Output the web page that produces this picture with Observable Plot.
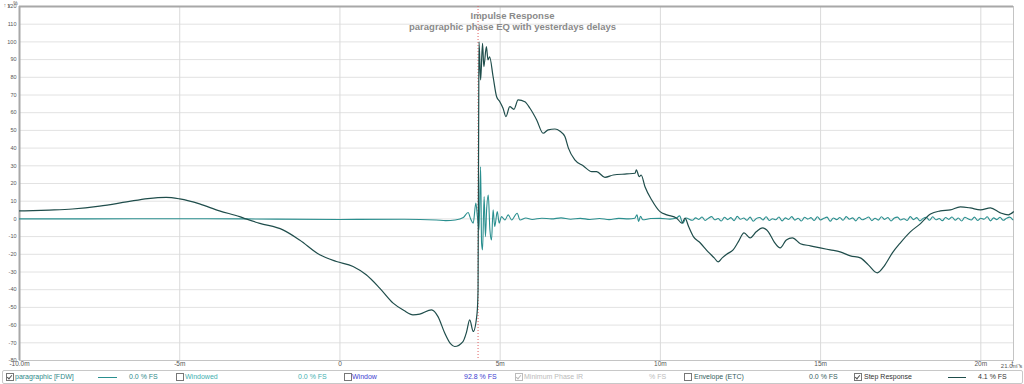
<!DOCTYPE html>
<html>
<head>
<meta charset="utf-8">
<script src="https://cdn.jsdelivr.net/npm/d3@7"></script>
<script src="https://cdn.jsdelivr.net/npm/@observablehq/plot@0.6"></script>
<style>
  body { margin: 0; background: #fff; font-family: "Liberation Sans", Arial, sans-serif; }
  #wrap { position: relative; width: 1024px; height: 384px; overflow: hidden; }
  #legend { position: absolute; left: 2px; top: 370px; width: 1019px; height: 12px; border: 1px solid #c8c8c8; border-radius: 2px; font-size: 7px; }
  #legend span { position: absolute; top: 2px; white-space: nowrap; }
  .cb { position: absolute; top: 2px; width: 6px; height: 6px; border: 1px solid #777; background: #fff; }
  .cb.on::after { content: ""; position: absolute; left: 1px; top: 0px; width: 2px; height: 4px; border: solid #555; border-width: 0 1px 1px 0; transform: rotate(40deg); }
  .cb.dis { border-color: #bbb; }
  .cb.dis::after { border-color: #bbb; }
  .ln { position: absolute; top: 6px; height: 1.3px; }
</style>
</head>
<body>
<div id="wrap">
  <div id="chart"></div>
  <div id="legend"></div>
</div>
<script>
// ---- data (time in ms, level in %) ----
const stepTime = [-10, -9.07, -8.35, -7.5, -6.66, -6.0, -5.42, -5.0, -4.38, -3.76, -3.13, -2.93, -2.5, -1.78, -1.26, -0.63, -0.11, 0.41, 0.82, 1.24, 1.66, 2.0, 2.28, 2.49, 2.86, 3.06, 3.27, 3.45, 3.58, 3.84, 3.95, 4.05, 4.16, 4.28, 4.31, 4.33, 4.34, 4.39, 4.45, 4.49, 4.57, 4.62, 4.67, 4.78, 4.89, 4.99, 5.09, 5.18, 5.3, 5.43, 5.56, 5.77, 5.93, 6.14, 6.34, 6.5, 6.71, 6.87, 7.02, 7.13, 7.33, 7.59, 7.86, 8.01, 8.27, 8.53, 8.95, 9.21, 9.25, 9.34, 9.4, 9.52, 9.73, 9.99, 10.2, 10.51, 10.67, 10.77, 10.88, 11.03, 11.24, 11.49, 11.68, 11.8, 11.93, 12.08, 12.27, 12.43, 12.61, 12.8, 12.99, 13.18, 13.37, 13.55, 13.74, 13.93, 14.12, 14.37, 14.68, 14.99, 15.3, 15.61, 15.93, 16.24, 16.49, 16.77, 16.99, 17.24, 17.49, 17.8, 18.11, 18.43, 18.74, 19.05, 19.36, 19.67, 19.99, 20.3, 20.61, 20.86, 21.02];
const stepValue = [4.5, 5.0, 5.6, 7.2, 9.6, 11.5, 12.2, 11.3, 8.5, 4.5, 1.3, 0, -2.5, -6.2, -11.9, -20.3, -24.1, -26.9, -31.6, -39.1, -47.6, -51.8, -54.2, -53.8, -51.4, -55.2, -64.5, -70.5, -72.1, -69.3, -64, -57, -63.6, -53.2, -40, 60, 100, 78.5, 99.2, 86, 97.3, 89.8, 91.6, 80.3, 69, 66.2, 62.5, 57.8, 63.4, 61.9, 67.2, 66.2, 62.5, 55.9, 48.4, 50.3, 50.8, 49.5, 46.5, 40, 33.3, 30, 26.7, 26.7, 23.5, 24.8, 25.4, 25.8, 27.7, 23.9, 24.8, 18.2, 10.7, 4.1, 2.3, 0.4, -2.4, 0.4, -4.3, -10, -13.5, -18.6, -22, -24.3, -22, -19.8, -17.5, -13, -7.9, -10.7, -7.3, -5.1, -7.3, -13, -16.4, -11.9, -10.7, -14, -15.2, -16.4, -17.5, -18.6, -20.9, -22, -26, -30.5, -26.5, -19.2, -13.5, -7.3, -2.8, 2.8, 4.5, 5.1, 6.8, 6.2, 5.1, 6.2, 3.4, 2.3, 4];

const impulseTime = [-10, -8, -5, -3, 0, 2, 3, 3.3, 3.6, 3.85, 4.0, 4.08, 4.16, 4.24, 4.29, 4.34, 4.39, 4.42, 4.45, 4.5, 4.54, 4.58, 4.63, 4.68, 4.73, 4.78, 4.83, 4.91, 4.97, 5.04, 5.15, 5.25, 5.36, 5.53, 5.62, 5.8, 6.0, 6.3, 6.6, 6.9, 7.2, 7.5, 7.8, 8.1, 8.4, 8.7, 9.0, 9.2, 9.27, 9.32, 9.38, 9.45, 9.7, 10.0, 10.3, 10.5, 10.6, 10.7, 10.8,
  11.0, 11.1, 11.2, 11.3, 11.4, 11.5, 11.6, 11.7, 11.8, 11.9, 12.0, 12.1, 12.2, 12.3, 12.4, 12.5, 12.6, 12.7, 12.8, 12.9, 13.0, 13.1, 13.2, 13.3, 13.4, 13.5, 13.6, 13.7, 13.8, 13.9, 14.0, 14.1, 14.2, 14.3, 14.4, 14.5, 14.6, 14.7, 14.8, 14.9, 15.0, 15.1, 15.2, 15.3, 15.4, 15.5, 15.6, 15.7, 15.8, 15.9, 16.0, 16.1, 16.2, 16.3, 16.4, 16.5, 16.6, 16.7, 16.8, 16.9, 17.0, 17.1, 17.2, 17.3, 17.4, 17.5, 17.6, 17.7, 17.8, 17.9, 18.0, 18.1, 18.2, 18.3, 18.4, 18.5, 18.6, 18.7, 18.8, 18.9, 19.0, 19.1, 19.2, 19.3, 19.4, 19.5, 19.6, 19.7, 19.8, 19.9, 20.0, 20.1, 20.2, 20.3, 20.4, 20.5, 20.6, 20.7, 20.8, 20.9, 21.0];
const impulseValue = [0, 0, 0.1, 0, -0.3, -0.2, -0.6, -1, -0.6, 0.8, 3.6, 0, -2.4, 8.9, 1.3, -6.2, 29.5, -13.7, -17.5, 12.6, -10, 6, 13.5, -6.2, -11.9, 5.1, -4.3, 4.1, -2.4, 1.3, -0.6, 2.3, -0.6, 3.2, -0.6, 0.5, -0.3, 0.4, 0, 0.6, -0.2, 0.3, -0.3, 0.2, -0.4, 0.3, 0, 0.4, 2.3, -1.5, 1.5, -0.5, 0.2, 0.3, -0.1, 0.5, 1.7, -2.5, 0.5,
  -0.8, 0.6, -0.3, 1.1, -0.9, 0.4, 1.3, -0.5, 0.2, -1.2,
  0.9, -0.4, 0.7, -1.0, 1.4, -0.2, 0.5, -0.8, 1.0, -1.3,
  0.3, 0.8, -0.6, 1.2, -0.9, 0.1, -0.5, 1.1, -1.1, 0.6,
  -0.3, 1.3, -0.7, 0.4, -1.2, 0.9, -0.1, 0.7, -0.9, 1.2,
  -0.6, 0.3, 1.0, -1.3, 0.5, -0.4, 0.8, -0.8, 1.3, -0.2,
  0.6, -1.1, 0.9, -0.5, 0.2, 1.1, -1.0, 0.4, -0.7, 1.2,
  -0.3, 0.8, -1.2, 0.5, 1.0, -0.6, 0.1, -0.9, 1.3, -0.4,
  0.7, -1.1, 0.3, 0.9, -0.8, 1.2, -0.5, 0.2, -1.0, 0.8,
  -0.3, 1.1, -0.7, 0.5, -1.2, 0.9, 0.1, -0.6, 1.0, -0.9,
  0.4, -0.2, 1.2, -1.1, 0.6, -0.4, 0.9, -0.8, 0.3, 1.0, -0.5];

const yTicks = [-80, -70, -60, -50, -40, -30, -20, -10, 0, 10, 20, 30, 40, 50, 60, 70, 80, 90, 100, 110, 120];
const xTicks = [-10, -5, 0, 5, 10, 15, 20];
const xTickLabels = ["-10.0m", "-5m", "0", "5m", "10m", "15m", "20m"];
const xEnd = 21.02;
const xEndLabel = "21.0m s";
const peakTime = 4.31;
const titleLines = ["Impulse Response", "paragraphic phase EQ with yesterdays delays"];

const stepColor = "#1f4d4b";
const impulseColor = "#2a8f8f";

const step = stepTime.map((t, i) => ({t, v: stepValue[i]}));
const impulse = impulseTime.map((t, i) => ({t, v: impulseValue[i]}));

const chart = Plot.plot({
  width: 1024,
  height: 368,
  marginLeft: 19,
  marginRight: 11,
  marginTop: 6,
  marginBottom: 8,
  style: {fontFamily: "'Liberation Sans', Arial, sans-serif", background: "#fff"},
  x: {domain: [-10, xEnd]},
  y: {domain: [-80, 120]},
  marks: [
    Plot.gridY(yTicks, {stroke: "#e2e2e2", strokeOpacity: 1}),
    Plot.gridX([-5, 0, 5, 10, 15, 20], {stroke: "#dadada", strokeOpacity: 1}),
    Plot.frame({stroke: "#c4c4c4"}),
    Plot.ruleX([-10], {stroke: "#a8a8a8", strokeWidth: 2}),
    Plot.ruleY([120], {stroke: "#a8a8a8", strokeWidth: 2}),
    Plot.axisY(yTicks, {tickSize: 0, tickPadding: 3, fontSize: 5.5, fill: "#555", tickFormat: d => String(d)}),
    Plot.axisX(xTicks, {tickSize: 0, tickPadding: 1, fontSize: 6.5, fill: "#555", tickFormat: d => xTickLabels[xTicks.indexOf(d)]}),
    Plot.text([xEndLabel], {x: xEnd, y: -80, dx: -2, dy: 6, fontSize: 6, fill: "#555", textAnchor: "middle"}),
    Plot.text(["%"], {x: -10, y: 120, dx: -4, dy: -3, fontSize: 5, fill: "#555"}),
    Plot.ruleX([peakTime], {stroke: "#e06060", strokeWidth: 1, strokeDasharray: "1,2"}),
    Plot.line(impulse, {x: "t", y: "v", stroke: impulseColor, strokeWidth: 1.1, curve: "monotone-x"}),
    Plot.line(step, {x: "t", y: "v", stroke: stepColor, strokeWidth: 1.2, curve: "monotone-x"}),
    Plot.text([titleLines[0]], {frameAnchor: "top", dx: -4, dy: 6, fontSize: 9.5, fontWeight: "bold", fill: "#8a8a8a"}),
    Plot.text([titleLines[1]], {frameAnchor: "top", dx: -4, dy: 17, fontSize: 9.5, fontWeight: "bold", fill: "#8a8a8a"})
  ]
});
document.getElementById("chart").appendChild(chart);

// ---- legend row ----
const legendItems = [
  {box: 3, on: true, label: "paragraphic [FDW]", lx: 12, color: "#2e8a8a", line: [95, 114, impulseColor], val: "0.0 % FS", vx: 126},
  {box: 173, on: false, label: "Windowed", lx: 182, color: "#3fb0b0", val: "0.0 % FS", vx: 295},
  {box: 341, on: false, label: "Window", lx: 349, color: "#4040d0", val: "92.8 % FS", vx: 461},
  {box: 512, on: true, dis: true, label: "Minimum Phase IR", lx: 521, color: "#bbbbbb", val: "% FS", vx: 646},
  {box: 681, on: false, label: "Envelope (ETC)", lx: 691, color: "#356060", val: "0.0 % FS", vx: 806},
  {box: 851, on: true, label: "Step Response", lx: 861, color: "#333333", line: [945, 963, stepColor], val: "4.1 % FS", vx: 975}
];
const lg = document.getElementById("legend");
for (const it of legendItems) {
  const b = document.createElement("div");
  b.className = "cb" + (it.on ? " on" : "") + (it.dis ? " dis" : "");
  b.style.left = it.box + "px";
  lg.appendChild(b);
  const s = document.createElement("span");
  s.textContent = it.label; s.style.left = it.lx + "px"; s.style.color = it.color;
  lg.appendChild(s);
  if (it.line) {
    const l = document.createElement("div");
    l.className = "ln"; l.style.left = it.line[0] + "px"; l.style.width = (it.line[1] - it.line[0]) + "px"; l.style.background = it.line[2];
    lg.appendChild(l);
  }
  const v = document.createElement("span");
  v.textContent = it.val; v.style.left = it.vx + "px"; v.style.color = it.color;
  lg.appendChild(v);
}
</script>
</body>
</html>
